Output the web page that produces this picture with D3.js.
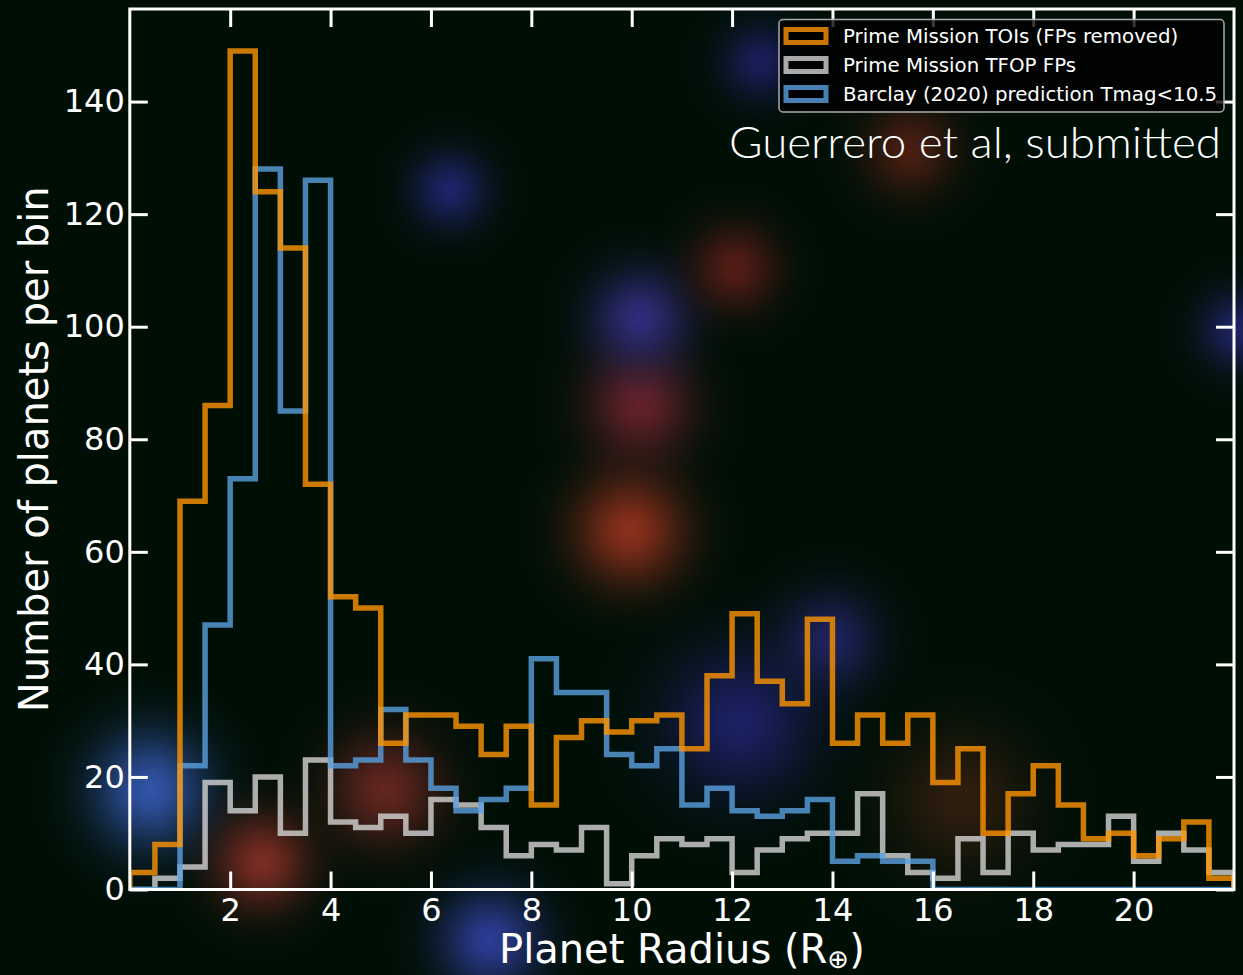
<!DOCTYPE html>
<html>
<head>
<meta charset="utf-8">
<script src="https://cdn.jsdelivr.net/npm/d3@7"></script>
<style>
html,body{margin:0;padding:0;background:#000f06;}
svg{display:block;}
</style>
</head>
<body>
<svg id="chart" width="1243" height="975"></svg>
<script>
// ---- data (bins of 0.5 Earth radii from 0 to 22) ----
const binStart = 0, binEnd = 22, binWidth = 0.5;
const toisFPremoved = [3, 8, 69, 86, 149, 124, 114, 72, 52, 50, 26, 31, 31, 29, 24, 29, 15, 27, 30, 28, 30, 31, 25, 38, 49, 37, 33, 48, 26, 31, 26, 31, 19, 25, 10, 17, 22, 15, 9, 10, 6, 9, 12, 2];
const tfopFPs = [0, 2, 4, 19, 14, 20, 10, 23, 12, 11, 13, 10, 16, 15, 11, 6, 8, 7, 11, 1, 6, 9, 8, 9, 3, 7, 9, 10, 10, 17, 6, 3, 2, 9, 3, 10, 7, 8, 8, 13, 5, 10, 7, 3];
const barclay = [0, 0, 22, 47, 73, 128, 85, 126, 22, 23, 32, 23, 18, 14, 16, 18, 41, 35, 35, 24, 22, 25, 15, 18, 14, 13, 14, 16, 5, 6, 5, 5, 0, 0, 0, 0, 0, 0, 0, 0, 0, 0, 0, 0];
const xTicks = [2, 4, 6, 8, 10, 12, 14, 16, 18, 20];
const yTicks = [0, 20, 40, 60, 80, 100, 120, 140];
const seriesNames = ["Prime Mission TOIs (FPs removed)", "Prime Mission TFOP FPs", "Barclay (2020) prediction Tmag<10.5"];
const seriesColors = ["#ff9400", "#d4d4d4", "#5aa0e0"];
const yMax = 156.45;

// decorative background glows (x, y, radius, colour)
const glows = [
  [630, 530, 110, "rgb(140,48,28)"],
  [640, 405, 105, "rgb(100,34,42)"],
  [640, 318, 95, "rgb(48,44,125)"],
  [735, 268, 85, "rgb(85,28,22)"],
  [450, 190, 75, "rgb(30,35,105)"],
  [910, 150, 90, "rgb(75,30,18)"],
  [760, 62, 75, "rgb(25,30,90)"],
  [1238, 330, 75, "rgb(30,35,100)"],
  [150, 790, 115, "rgb(50,85,170)"],
  [262, 862, 95, "rgb(125,44,36)"],
  [385, 790, 110, "rgb(100,38,32)"],
  [490, 940, 100, "rgb(45,60,150)"],
  [740, 722, 145, "rgb(28,32,100)"],
  [830, 640, 95, "rgb(30,35,95)"],
  [960, 800, 135, "rgb(48,30,15)"]
];

const W = 1243, H = 975;
const pL = 129.8, pR = 1234, pT = 9, pB = 889.5;

const svg = d3.select("#chart");
const defs = svg.append("defs");

// background
svg.append("rect").attr("width", W).attr("height", H).attr("fill", "#000f06");
const glowStops = [[0, 1], [0.15, 0.88], [0.3, 0.65], [0.45, 0.4], [0.6, 0.2], [0.75, 0.08], [0.9, 0.02], [1, 0]];
glows.forEach((g, i) => {
  const grad = defs.append("radialGradient").attr("id", "glow" + i);
  glowStops.forEach(s => grad.append("stop").attr("offset", s[0]).attr("stop-color", g[3]).attr("stop-opacity", s[1]));
  svg.append("circle").attr("cx", g[0]).attr("cy", g[1]).attr("r", g[2]).attr("fill", `url(#glow${i})`);
});

const x = d3.scaleLinear().domain([binStart, binEnd]).range([pL, pR]);
const y = d3.scaleLinear().domain([0, yMax]).range([pB, pT]);

defs.append("clipPath").attr("id", "plotclip")
  .append("rect").attr("x", pL).attr("y", pT).attr("width", pR - pL).attr("height", pB - pT);

function stepPoints(vals) {
  const pts = [[binStart, 0]];
  vals.forEach((v, i) => {
    const e0 = binStart + i * binWidth, e1 = e0 + binWidth;
    pts.push([e0, v]); pts.push([e1, v]);
  });
  pts.push([binStart + vals.length * binWidth, 0]);
  return pts;
}
const line = d3.line().x(d => x(d[0])).y(d => y(d[1]));

const plot = svg.append("g").attr("clip-path", "url(#plotclip)");
// draw order: gray, blue, orange
[[tfopFPs, 1], [barclay, 2], [toisFPremoved, 0]].forEach(([vals, ci]) => {
  plot.append("path")
    .attr("d", line(stepPoints(vals)))
    .attr("fill", "none")
    .attr("stroke", seriesColors[ci])
    .attr("stroke-opacity", 0.8)
    .attr("stroke-width", 5.5)
    .attr("stroke-linejoin", "miter");
});

// axes with inward ticks on all sides
const tickLen = 18;
const axisFont = "DejaVu Sans, sans-serif";
const bottomAxis = d3.axisBottom(x).tickValues(xTicks).tickSize(-tickLen).tickPadding(9).tickFormat(d3.format("d"));
const topAxis = d3.axisTop(x).tickValues(xTicks).tickSize(-tickLen).tickFormat("");
const leftAxis = d3.axisLeft(y).tickValues(yTicks).tickSize(-tickLen).tickPadding(5).tickFormat(d3.format("d"));
const rightAxis = d3.axisRight(y).tickValues(yTicks).tickSize(-tickLen).tickFormat("");

function styleAxis(g) {
  g.select(".domain").remove();
  g.selectAll(".tick line").attr("stroke", "#fff").attr("stroke-width", 3);
  g.selectAll(".tick text").attr("fill", "#fff").attr("font-family", axisFont).attr("font-size", 32);
}
svg.append("g").attr("transform", `translate(0,${pB})`).call(bottomAxis).call(styleAxis);
svg.append("g").attr("transform", `translate(0,${pT})`).call(topAxis).call(styleAxis);
svg.append("g").attr("transform", `translate(${pL},0)`).call(leftAxis).call(styleAxis);
svg.append("g").attr("transform", `translate(${pR},0)`).call(rightAxis).call(styleAxis);

// spines
svg.append("rect").attr("x", pL).attr("y", pT).attr("width", pR - pL).attr("height", pB - pT)
  .attr("fill", "none").attr("stroke", "#fff").attr("stroke-width", 3);

// axis labels
const xl = svg.append("text").attr("x", (pL + pR) / 2).attr("y", 963)
  .attr("text-anchor", "middle").attr("fill", "#fff").attr("font-family", axisFont).attr("font-size", 40);
xl.append("tspan").text("Planet Radius (R");
xl.append("tspan").attr("font-size", 26).attr("dy", 5).text("\u2295");
xl.append("tspan").attr("dy", -5).text(")");

svg.append("text").attr("transform", `translate(48,${(pT + pB) / 2}) rotate(-90)`)
  .attr("text-anchor", "middle").attr("fill", "#fff").attr("font-family", axisFont).attr("font-size", 40)
  .text("Number of planets per bin");

// legend
const lg = svg.append("g");
lg.append("rect").attr("x", 779).attr("y", 19.5).attr("width", 445).attr("height", 92.5).attr("rx", 4)
  .attr("fill", "#000").attr("fill-opacity", 0.78).attr("stroke", "#aaa").attr("stroke-width", 1.5);
seriesNames.forEach((name, i) => {
  const cy = 36 + i * 29;
  lg.append("rect").attr("x", 786).attr("y", cy - 6.5).attr("width", 40).attr("height", 13)
    .attr("fill", "#000").attr("stroke", seriesColors[i]).attr("stroke-opacity", 0.8).attr("stroke-width", 5);
  lg.append("text").attr("x", 843).attr("y", cy + 7).attr("fill", "#fff")
    .attr("font-family", axisFont).attr("font-size", 19.8).text(name);
});

// annotation
svg.append("text").attr("x", 1221).attr("y", 158).attr("text-anchor", "end")
  .attr("fill", "#fff").attr("font-family", "Lato, 'Open Sans', sans-serif").attr("font-weight", 300)
  .attr("font-size", 44).attr("textLength", 492).attr("lengthAdjust", "spacingAndGlyphs")
  .text("Guerrero et al, submitted");
</script>
</body>
</html>
